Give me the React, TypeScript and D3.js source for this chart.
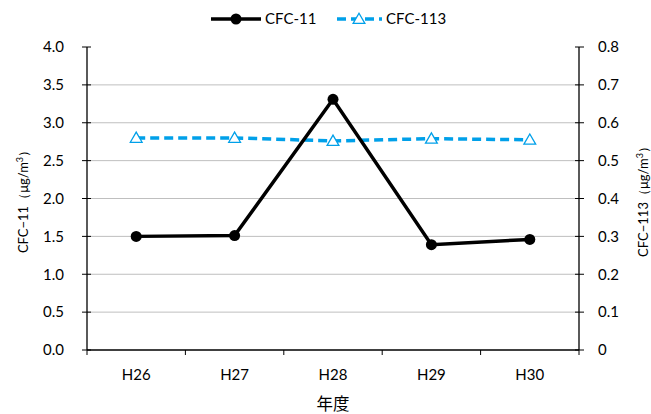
import React from "react";
import * as d3 from "d3";

const categories = ["H26", "H27", "H28", "H29", "H30"];
const cfc11 = [1.5, 1.51, 3.31, 1.39, 1.46];
const cfc113 = [0.56, 0.56, 0.552, 0.558, 0.555];
const leftTicks = [0, 0.5, 1.0, 1.5, 2.0, 2.5, 3.0, 3.5, 4.0];
const rightTicks = [0, 0.1, 0.2, 0.3, 0.4, 0.5, 0.6, 0.7, 0.8];

const W = 651, H = 414;
const L = 87, R = 579, T = 47, B = 350;
const FONT = "Lato, 'Noto Sans', sans-serif";
const BLUE = "#00a0e9";

export default function App() {
  const x = d3.scaleBand().domain(categories).range([L, R]);
  const yL = d3.scaleLinear().domain([0, 4]).range([B, T]);
  const yR = d3.scaleLinear().domain([0, 0.8]).range([B, T]);
  const cx = (c: string) => (x(c) as number) + x.bandwidth() / 2;
  const line11 = d3.line<number>().x((_, i) => cx(categories[i])).y((d) => yL(d));
  const line113 = d3.line<number>().x((_, i) => cx(categories[i])).y((d) => yR(d));
  const tri = d3.symbol().type(d3.symbolTriangle).size(60)();
  const bounds = [...categories.map((c) => x(c) as number), R];

  return (
    <svg width={W} height={H} style={{ position: "absolute", left: 0, top: 0, background: "#fff" }} fontFamily={FONT}>
      <rect width={W} height={H} fill="#fff" />
      {leftTicks.filter((t) => t > 0 && t < 4).map((t) => (
        <line key={"g" + t} x1={L} x2={R} y1={yL(t)} y2={yL(t)} stroke="#bfbfbf" strokeWidth={1} />
      ))}
      {/* axes */}
      <line x1={L} x2={L} y1={T} y2={B} stroke="#000" strokeWidth={1.3} />
      <line x1={R} x2={R} y1={T} y2={B} stroke="#000" strokeWidth={1.3} />
      <line x1={L} x2={R} y1={B} y2={B} stroke="#000" strokeWidth={1.3} />
      {leftTicks.map((t) => (
        <g key={"l" + t}>
          <line x1={L - 5} x2={L + 4} y1={yL(t)} y2={yL(t)} stroke="#000" />
          <text x={L - 23} y={yL(t)} dy="0.35em" textAnchor="end" fontSize={15} fill="#000">
            {t.toFixed(1)}
          </text>
        </g>
      ))}
      {rightTicks.map((t) => (
        <g key={"r" + t}>
          <line x1={R - 4} x2={R + 5} y1={yR(t)} y2={yR(t)} stroke="#000" />
          <text x={R + 19} y={yR(t)} dy="0.35em" textAnchor="start" fontSize={15} fill="#000">
            {t === 0 ? "0" : t.toFixed(1)}
          </text>
        </g>
      ))}
      {bounds.map((b, i) => (
        <line key={"xb" + i} x1={b} x2={b} y1={B} y2={B + 5} stroke="#000" />
      ))}
      {categories.map((c) => (
        <text key={c} x={cx(c)} y={B + 30} textAnchor="middle" fontSize={15} fill="#000">
          {c}
        </text>
      ))}
      <text x={333} y={410} textAnchor="middle" fontSize={16.5} fill="#000" fontFamily="'Noto Sans CJK JP', sans-serif">
        年度
      </text>
      <text transform={`translate(28,${(T + B) / 2}) rotate(-90)`} textAnchor="middle" fontSize={13} fill="#000">
        CFC−11（μg/m<tspan dy="-5" fontSize={9}>3</tspan><tspan dy="5">）</tspan>
      </text>
      <text transform={`translate(648,${(T + B) / 2}) rotate(-90)`} textAnchor="middle" fontSize={13} fill="#000">
        CFC−113（μg/m<tspan dy="-5" fontSize={9}>3</tspan><tspan dy="5">）</tspan>
      </text>

      {/* series */}
      <path d={line113(cfc113) as string} fill="none" stroke={BLUE} strokeWidth={3.5} strokeDasharray="9 5" />
      {cfc113.map((v, i) => (
        <path key={"t" + i} d={tri as string} transform={`translate(${cx(categories[i])},${yR(v) + 1})`} fill="#fff" stroke={BLUE} strokeWidth={1.3} />
      ))}
      <path d={line11(cfc11) as string} fill="none" stroke="#000" strokeWidth={3.5} />
      {cfc11.map((v, i) => (
        <circle key={"c" + i} cx={cx(categories[i])} cy={yL(v)} r={5.5} fill="#000" />
      ))}

      {/* legend */}
      <line x1={211} x2={261} y1={19} y2={19} stroke="#000" strokeWidth={3.5} />
      <circle cx={236} cy={19} r={5.5} fill="#000" />
      <text x={265} y={19} dy="0.35em" fontSize={15} fill="#000">CFC-11</text>
      <line x1={337} x2={382} y1={19} y2={19} stroke={BLUE} strokeWidth={3.5} strokeDasharray="9 5" />
      <path d={tri as string} transform="translate(359,20)" fill="#fff" stroke={BLUE} strokeWidth={1.3} />
      <text x={386} y={19} dy="0.35em" fontSize={15} fill="#000">CFC-113</text>
    </svg>
  );
}
